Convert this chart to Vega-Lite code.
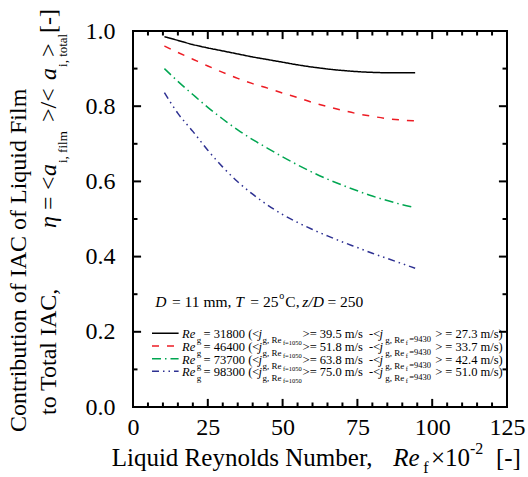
{
  "$schema": "https://vega.github.io/schema/vega-lite/v6.json",
  "width": 374,
  "height": 376,
  "autosize": {"type": "none"},
  "padding": {"left": 133, "top": 31, "right": 21, "bottom": 70},
  "background": "white",
  "config": {
    "view": {"stroke": "#000", "strokeWidth": 2},
    "axis": {"grid": false, "domain": false, "title": null},
    "text": {"font": "Liberation Serif, Times New Roman, serif", "color": "#000", "align": "left", "baseline": "alphabetic"}
  },
  "datasets": {
    "curves": [
      {"s": "31800", "x": 10.5, "y": 0.985}, {"s": "31800", "x": 15, "y": 0.975}, {"s": "31800", "x": 20, "y": 0.964}, {"s": "31800", "x": 25, "y": 0.955}, {"s": "31800", "x": 30, "y": 0.947}, {"s": "31800", "x": 35, "y": 0.939}, {"s": "31800", "x": 40, "y": 0.931}, {"s": "31800", "x": 45, "y": 0.924}, {"s": "31800", "x": 50, "y": 0.917}, {"s": "31800", "x": 55, "y": 0.910}, {"s": "31800", "x": 60, "y": 0.904}, {"s": "31800", "x": 65, "y": 0.899}, {"s": "31800", "x": 70, "y": 0.895}, {"s": "31800", "x": 75, "y": 0.892}, {"s": "31800", "x": 80, "y": 0.890}, {"s": "31800", "x": 85, "y": 0.889}, {"s": "31800", "x": 90, "y": 0.889}, {"s": "31800", "x": 94.3, "y": 0.889},
      {"s": "46400", "x": 10.5, "y": 0.960}, {"s": "46400", "x": 15, "y": 0.943}, {"s": "46400", "x": 20, "y": 0.925}, {"s": "46400", "x": 25, "y": 0.907}, {"s": "46400", "x": 30, "y": 0.890}, {"s": "46400", "x": 35, "y": 0.874}, {"s": "46400", "x": 40, "y": 0.860}, {"s": "46400", "x": 45, "y": 0.848}, {"s": "46400", "x": 50, "y": 0.835}, {"s": "46400", "x": 55, "y": 0.823}, {"s": "46400", "x": 60, "y": 0.810}, {"s": "46400", "x": 65, "y": 0.799}, {"s": "46400", "x": 70, "y": 0.789}, {"s": "46400", "x": 75, "y": 0.780}, {"s": "46400", "x": 80, "y": 0.773}, {"s": "46400", "x": 85, "y": 0.767}, {"s": "46400", "x": 90, "y": 0.763}, {"s": "46400", "x": 94.3, "y": 0.761},
      {"s": "73700", "x": 10.5, "y": 0.900}, {"s": "73700", "x": 15, "y": 0.866}, {"s": "73700", "x": 20, "y": 0.831}, {"s": "73700", "x": 25, "y": 0.797}, {"s": "73700", "x": 30, "y": 0.766}, {"s": "73700", "x": 35, "y": 0.737}, {"s": "73700", "x": 40, "y": 0.711}, {"s": "73700", "x": 45, "y": 0.688}, {"s": "73700", "x": 50, "y": 0.665}, {"s": "73700", "x": 55, "y": 0.644}, {"s": "73700", "x": 60, "y": 0.624}, {"s": "73700", "x": 65, "y": 0.606}, {"s": "73700", "x": 70, "y": 0.590}, {"s": "73700", "x": 75, "y": 0.575}, {"s": "73700", "x": 80, "y": 0.561}, {"s": "73700", "x": 85, "y": 0.549}, {"s": "73700", "x": 90, "y": 0.538}, {"s": "73700", "x": 94.3, "y": 0.530},
      {"s": "98300", "x": 10.5, "y": 0.836}, {"s": "98300", "x": 15, "y": 0.781}, {"s": "98300", "x": 20, "y": 0.733}, {"s": "98300", "x": 25, "y": 0.683}, {"s": "98300", "x": 30, "y": 0.638}, {"s": "98300", "x": 35, "y": 0.599}, {"s": "98300", "x": 40, "y": 0.566}, {"s": "98300", "x": 45, "y": 0.537}, {"s": "98300", "x": 50, "y": 0.512}, {"s": "98300", "x": 55, "y": 0.491}, {"s": "98300", "x": 60, "y": 0.472}, {"s": "98300", "x": 65, "y": 0.455}, {"s": "98300", "x": 70, "y": 0.439}, {"s": "98300", "x": 75, "y": 0.424}, {"s": "98300", "x": 80, "y": 0.409}, {"s": "98300", "x": 85, "y": 0.395}, {"s": "98300", "x": 90, "y": 0.381}, {"s": "98300", "x": 94.3, "y": 0.369}
    ],
    "keys": [
      {"s": "31800", "x": 6.35, "x2": 15.24, "y": 0.196},
      {"s": "46400", "x": 6.35, "x2": 15.24, "y": 0.1622},
      {"s": "73700", "x": 6.35, "x2": 15.24, "y": 0.1285},
      {"s": "98300", "x": 6.35, "x2": 15.24, "y": 0.0949}
    ],
    "xticks": [
      {"v": 0, "m": "major"}, {"v": 5, "m": "minor"}, {"v": 10, "m": "minor"}, {"v": 15, "m": "minor"}, {"v": 20, "m": "minor"}, {"v": 25, "m": "major"}, {"v": 30, "m": "minor"}, {"v": 35, "m": "minor"}, {"v": 40, "m": "minor"}, {"v": 45, "m": "minor"}, {"v": 50, "m": "major"}, {"v": 55, "m": "minor"}, {"v": 60, "m": "minor"}, {"v": 65, "m": "minor"}, {"v": 70, "m": "minor"}, {"v": 75, "m": "major"}, {"v": 80, "m": "minor"}, {"v": 85, "m": "minor"}, {"v": 90, "m": "minor"}, {"v": 95, "m": "minor"}, {"v": 100, "m": "major"}, {"v": 105, "m": "minor"}, {"v": 110, "m": "minor"}, {"v": 115, "m": "minor"}, {"v": 120, "m": "minor"}, {"v": 125, "m": "major"}
    ],
    "yticks": [
      {"v": 0, "m": "major"}, {"v": 0.1, "m": "minor"}, {"v": 0.2, "m": "major"}, {"v": 0.3, "m": "minor"}, {"v": 0.4, "m": "major"}, {"v": 0.5, "m": "minor"}, {"v": 0.6, "m": "major"}, {"v": 0.7, "m": "minor"}, {"v": 0.8, "m": "major"}, {"v": 0.9, "m": "minor"}, {"v": 1.0, "m": "major"}
    ],
    "txt": [
      {"t": "Re", "x": 16.38, "y": 0.1827, "k": "li"}, {"t": "g", "x": 21.32, "y": 0.1827, "k": "ls"}, {"t": "= 31800 (<", "x": 23.6, "y": 0.1827, "k": "lr"}, {"t": "j", "x": 41.98, "y": 0.1827, "k": "li"}, {"t": "g, Re", "x": 43.3, "y": 0.1827, "k": "ls"}, {"t": "f=1050", "x": 50.1, "y": 0.1827, "k": "lss"}, {"t": ">= 39.5 m/s\u00a0\u00a0-<", "x": 56.68, "y": 0.1827, "k": "lr"}, {"t": "j", "x": 82.4, "y": 0.1827, "k": "li"}, {"t": "g, Re", "x": 84.3, "y": 0.1827, "k": "ls"}, {"t": "f", "x": 91.2, "y": 0.1827, "k": "lss"}, {"t": "=9430", "x": 92.3, "y": 0.1827, "k": "ls2"}, {"t": "> = 27.3 m/s)", "x": 101.0, "y": 0.1827, "k": "lr"},
      {"t": "Re", "x": 16.38, "y": 0.1489, "k": "li"}, {"t": "g", "x": 21.32, "y": 0.1489, "k": "ls"}, {"t": "= 46400 (<", "x": 23.6, "y": 0.1489, "k": "lr"}, {"t": "j", "x": 41.98, "y": 0.1489, "k": "li"}, {"t": "g, Re", "x": 43.3, "y": 0.1489, "k": "ls"}, {"t": "f=1050", "x": 50.1, "y": 0.1489, "k": "lss"}, {"t": ">= 51.8 m/s\u00a0\u00a0-<", "x": 56.68, "y": 0.1489, "k": "lr"}, {"t": "j", "x": 82.4, "y": 0.1489, "k": "li"}, {"t": "g, Re", "x": 84.3, "y": 0.1489, "k": "ls"}, {"t": "f", "x": 91.2, "y": 0.1489, "k": "lss"}, {"t": "=9430", "x": 92.3, "y": 0.1489, "k": "ls2"}, {"t": "> = 33.7 m/s)", "x": 101.0, "y": 0.1489, "k": "lr"},
      {"t": "Re", "x": 16.38, "y": 0.1152, "k": "li"}, {"t": "g", "x": 21.32, "y": 0.1152, "k": "ls"}, {"t": "= 73700 (<", "x": 23.6, "y": 0.1152, "k": "lr"}, {"t": "j", "x": 41.98, "y": 0.1152, "k": "li"}, {"t": "g, Re", "x": 43.3, "y": 0.1152, "k": "ls"}, {"t": "f=1050", "x": 50.1, "y": 0.1152, "k": "lss"}, {"t": ">= 63.8 m/s\u00a0\u00a0-<", "x": 56.68, "y": 0.1152, "k": "lr"}, {"t": "j", "x": 82.4, "y": 0.1152, "k": "li"}, {"t": "g, Re", "x": 84.3, "y": 0.1152, "k": "ls"}, {"t": "f", "x": 91.2, "y": 0.1152, "k": "lss"}, {"t": "=9430", "x": 92.3, "y": 0.1152, "k": "ls2"}, {"t": "> = 42.4 m/s)", "x": 101.0, "y": 0.1152, "k": "lr"},
      {"t": "Re", "x": 16.38, "y": 0.0816, "k": "li"}, {"t": "g", "x": 21.32, "y": 0.0816, "k": "ls"}, {"t": "= 98300 (<", "x": 23.6, "y": 0.0816, "k": "lr"}, {"t": "j", "x": 41.98, "y": 0.0816, "k": "li"}, {"t": "g, Re", "x": 43.3, "y": 0.0816, "k": "ls"}, {"t": "f=1050", "x": 50.1, "y": 0.0816, "k": "lss"}, {"t": ">= 75.0 m/s\u00a0\u00a0-<", "x": 56.68, "y": 0.0816, "k": "lr"}, {"t": "j", "x": 82.4, "y": 0.0816, "k": "li"}, {"t": "g, Re", "x": 84.3, "y": 0.0816, "k": "ls"}, {"t": "f", "x": 91.2, "y": 0.0816, "k": "lss"}, {"t": "=9430", "x": 92.3, "y": 0.0816, "k": "ls2"}, {"t": "> = 51.0 m/s)", "x": 101.0, "y": 0.0816, "k": "lr"},
      {"t": "D", "x": 7.45, "y": 0.2667, "k": "ni"}, {"t": "= 11 mm,", "x": 13.03, "y": 0.2667, "k": "nr"}, {"t": "T", "x": 34.19, "y": 0.2667, "k": "ni"}, {"t": "= 25", "x": 39.2, "y": 0.2667, "k": "nr"}, {"t": "o", "x": 48.9, "y": 0.2667, "k": "nsup"}, {"t": "C,", "x": 50.9, "y": 0.2667, "k": "nr"}, {"t": "z/D", "x": 56.6, "y": 0.2667, "k": "ni"}, {"t": "= 250", "x": 65.0, "y": 0.2667, "k": "nr"},
      {"t": "Liquid Reynolds Number,", "x": -7.12, "y": -0.1569, "k": "xr"}, {"t": "Re", "x": 87.0, "y": -0.1569, "k": "xi"}, {"t": "f", "x": 97.03, "y": -0.1569, "k": "xsub"}, {"t": "×10", "x": 99.6, "y": -0.1569, "k": "xr"}, {"t": "-2", "x": 112.6, "y": -0.1569, "k": "xsup"}, {"t": "[-]", "x": 121.3, "y": -0.1569, "k": "xr"},
      {"t": "Contribution of IAC of Liquid Film", "x": -35.76, "y": -0.0665, "k": "yr"},
      {"t": "to", "x": -25.73, "y": -0.0213, "k": "yr"}, {"t": "Total IAC,", "x": -25.73, "y": 0.0426, "k": "yr"}, {"t": "η", "x": -25.73, "y": 0.4761, "k": "yi"}, {"t": "=", "x": -25.73, "y": 0.5239, "k": "yr"}, {"t": "<", "x": -25.73, "y": 0.5771, "k": "yr"}, {"t": "a", "x": -25.73, "y": 0.6144, "k": "yi"}, {"t": "i, film", "x": -25.73, "y": 0.6489, "k": "ysub"}, {"t": ">/<", "x": -25.73, "y": 0.758, "k": "yr"}, {"t": "a", "x": -25.73, "y": 0.8697, "k": "yi"}, {"t": "i, total", "x": -25.73, "y": 0.9043, "k": "ysub"}, {"t": ">", "x": -25.73, "y": 0.9309, "k": "yr"}, {"t": "[-]", "x": -25.73, "y": 0.9947, "k": "yr"}
    ]
  },
  "layer": [
    {
      "data": {"name": "curves"},
      "mark": {"type": "line", "strokeWidth": 1.5, "interpolate": "monotone"},
      "encoding": {
        "x": {"field": "x", "type": "quantitative", "scale": {"domain": [0, 125], "nice": false, "zero": false},
          "axis": {"orient": "bottom", "values": [0, 25, 50, 75, 100, 125], "ticks": false, "labelFont": "Liberation Serif, Times New Roman, serif", "labelFontSize": 24, "labelColor": "#000", "labelPadding": 8, "labelFlush": false, "labelOverlap": false}},
        "y": {"field": "y", "type": "quantitative", "scale": {"domain": [0, 1], "nice": false, "zero": false},
          "axis": {"orient": "left", "values": [0, 0.2, 0.4, 0.6, 0.8, 1.0], "format": ".1f", "ticks": false, "labelFont": "Liberation Serif, Times New Roman, serif", "labelFontSize": 24, "labelColor": "#000", "labelPadding": 18, "labelFlush": false, "labelOverlap": false}},
        "color": {"field": "s", "type": "nominal", "scale": {"domain": ["31800", "46400", "73700", "98300"], "range": ["#000000", "#ed1c24", "#00a651", "#2e3192"]}, "legend": null},
        "strokeDash": {"field": "s", "type": "nominal", "scale": {"domain": ["31800", "46400", "73700", "98300"], "range": [[1, 0], [7, 8], [9, 4, 1.5, 4], [7, 4, 1.5, 4, 1.5, 4]]}, "legend": null}
      }
    },
    {
      "data": {"name": "keys"},
      "mark": {"type": "rule", "strokeWidth": 1.5},
      "encoding": {
        "x": {"field": "x", "type": "quantitative"},
        "x2": {"field": "x2"},
        "y": {"field": "y", "type": "quantitative"},
        "color": {"field": "s", "type": "nominal", "legend": null},
        "strokeDash": {"field": "s", "type": "nominal", "legend": null}
      }
    },
    {"data": {"name": "xticks"}, "transform": [{"filter": "datum.m === 'major'"}], "mark": {"type": "rule", "color": "#000", "strokeWidth": 2, "opacity": 1}, "encoding": {"x": {"field": "v", "type": "quantitative"}, "y": {"datum": 0, "type": "quantitative"}, "y2": {"datum": 0.0215}}},
    {"data": {"name": "xticks"}, "transform": [{"filter": "datum.m === 'minor'"}], "mark": {"type": "rule", "color": "#000", "strokeWidth": 2, "opacity": 1}, "encoding": {"x": {"field": "v", "type": "quantitative"}, "y": {"datum": 0, "type": "quantitative"}, "y2": {"datum": 0.012}}},
    {"data": {"name": "xticks"}, "transform": [{"filter": "datum.m === 'major'"}], "mark": {"type": "rule", "color": "#000", "strokeWidth": 2, "opacity": 1}, "encoding": {"x": {"field": "v", "type": "quantitative"}, "y": {"datum": 1, "type": "quantitative"}, "y2": {"datum": 0.9785}}},
    {"data": {"name": "xticks"}, "transform": [{"filter": "datum.m === 'minor'"}], "mark": {"type": "rule", "color": "#000", "strokeWidth": 2, "opacity": 1}, "encoding": {"x": {"field": "v", "type": "quantitative"}, "y": {"datum": 1, "type": "quantitative"}, "y2": {"datum": 0.988}}},
    {"data": {"name": "yticks"}, "transform": [{"filter": "datum.m === 'major'"}], "mark": {"type": "rule", "color": "#000", "strokeWidth": 2, "opacity": 1}, "encoding": {"y": {"field": "v", "type": "quantitative"}, "x": {"datum": 0, "type": "quantitative"}, "x2": {"datum": 2.7}}},
    {"data": {"name": "yticks"}, "transform": [{"filter": "datum.m === 'minor'"}], "mark": {"type": "rule", "color": "#000", "strokeWidth": 2, "opacity": 1}, "encoding": {"y": {"field": "v", "type": "quantitative"}, "x": {"datum": 0, "type": "quantitative"}, "x2": {"datum": 1.5}}},
    {"data": {"name": "yticks"}, "transform": [{"filter": "datum.m === 'major'"}], "mark": {"type": "rule", "color": "#000", "strokeWidth": 2, "opacity": 1}, "encoding": {"y": {"field": "v", "type": "quantitative"}, "x": {"datum": 125, "type": "quantitative"}, "x2": {"datum": 122.3}}},
    {"data": {"name": "yticks"}, "transform": [{"filter": "datum.m === 'minor'"}], "mark": {"type": "rule", "color": "#000", "strokeWidth": 2, "opacity": 1}, "encoding": {"y": {"field": "v", "type": "quantitative"}, "x": {"datum": 125, "type": "quantitative"}, "x2": {"datum": 123.5}}},
    {"data": {"name": "txt"}, "transform": [{"filter": "datum.k === 'lr'"}], "mark": {"type": "text", "fontSize": 12.5}, "encoding": {"x": {"field": "x", "type": "quantitative"}, "y": {"field": "y", "type": "quantitative"}, "text": {"field": "t"}}},
    {"data": {"name": "txt"}, "transform": [{"filter": "datum.k === 'li'"}], "mark": {"type": "text", "fontSize": 12.5, "fontStyle": "italic"}, "encoding": {"x": {"field": "x", "type": "quantitative"}, "y": {"field": "y", "type": "quantitative"}, "text": {"field": "t"}}},
    {"data": {"name": "txt"}, "transform": [{"filter": "datum.k === 'ls'"}], "mark": {"type": "text", "fontSize": 9, "dy": 5}, "encoding": {"x": {"field": "x", "type": "quantitative"}, "y": {"field": "y", "type": "quantitative"}, "text": {"field": "t"}}},
    {"data": {"name": "txt"}, "transform": [{"filter": "datum.k === 'lss'"}], "mark": {"type": "text", "fontSize": 6.5, "dy": 7}, "encoding": {"x": {"field": "x", "type": "quantitative"}, "y": {"field": "y", "type": "quantitative"}, "text": {"field": "t"}}},
    {"data": {"name": "txt"}, "transform": [{"filter": "datum.k === 'ls2'"}], "mark": {"type": "text", "fontSize": 8.5, "dy": 4}, "encoding": {"x": {"field": "x", "type": "quantitative"}, "y": {"field": "y", "type": "quantitative"}, "text": {"field": "t"}}},
    {"data": {"name": "txt"}, "transform": [{"filter": "datum.k === 'nr'"}], "mark": {"type": "text", "fontSize": 15.5}, "encoding": {"x": {"field": "x", "type": "quantitative"}, "y": {"field": "y", "type": "quantitative"}, "text": {"field": "t"}}},
    {"data": {"name": "txt"}, "transform": [{"filter": "datum.k === 'ni'"}], "mark": {"type": "text", "fontSize": 15.5, "fontStyle": "italic"}, "encoding": {"x": {"field": "x", "type": "quantitative"}, "y": {"field": "y", "type": "quantitative"}, "text": {"field": "t"}}},
    {"data": {"name": "txt"}, "transform": [{"filter": "datum.k === 'nsup'"}], "mark": {"type": "text", "fontSize": 10, "dy": -8}, "encoding": {"x": {"field": "x", "type": "quantitative"}, "y": {"field": "y", "type": "quantitative"}, "text": {"field": "t"}}},
    {"data": {"name": "txt"}, "transform": [{"filter": "datum.k === 'xr'"}], "mark": {"type": "text", "fontSize": 25}, "encoding": {"x": {"field": "x", "type": "quantitative"}, "y": {"field": "y", "type": "quantitative"}, "text": {"field": "t"}}},
    {"data": {"name": "txt"}, "transform": [{"filter": "datum.k === 'xi'"}], "mark": {"type": "text", "fontSize": 25, "fontStyle": "italic"}, "encoding": {"x": {"field": "x", "type": "quantitative"}, "y": {"field": "y", "type": "quantitative"}, "text": {"field": "t"}}},
    {"data": {"name": "txt"}, "transform": [{"filter": "datum.k === 'xsub'"}], "mark": {"type": "text", "fontSize": 16, "dy": 7}, "encoding": {"x": {"field": "x", "type": "quantitative"}, "y": {"field": "y", "type": "quantitative"}, "text": {"field": "t"}}},
    {"data": {"name": "txt"}, "transform": [{"filter": "datum.k === 'xsup'"}], "mark": {"type": "text", "fontSize": 16, "dy": -12}, "encoding": {"x": {"field": "x", "type": "quantitative"}, "y": {"field": "y", "type": "quantitative"}, "text": {"field": "t"}}},
    {"data": {"name": "txt"}, "transform": [{"filter": "datum.k === 'yr'"}], "mark": {"type": "text", "fontSize": 24, "angle": 270}, "encoding": {"x": {"field": "x", "type": "quantitative"}, "y": {"field": "y", "type": "quantitative"}, "text": {"field": "t"}}},
    {"data": {"name": "txt"}, "transform": [{"filter": "datum.k === 'yi'"}], "mark": {"type": "text", "fontSize": 24, "fontStyle": "italic", "angle": 270}, "encoding": {"x": {"field": "x", "type": "quantitative"}, "y": {"field": "y", "type": "quantitative"}, "text": {"field": "t"}}},
    {"data": {"name": "txt"}, "transform": [{"filter": "datum.k === 'ysub'"}], "mark": {"type": "text", "fontSize": 13, "dy": 11, "angle": 270}, "encoding": {"x": {"field": "x", "type": "quantitative"}, "y": {"field": "y", "type": "quantitative"}, "text": {"field": "t"}}}
  ]
}
